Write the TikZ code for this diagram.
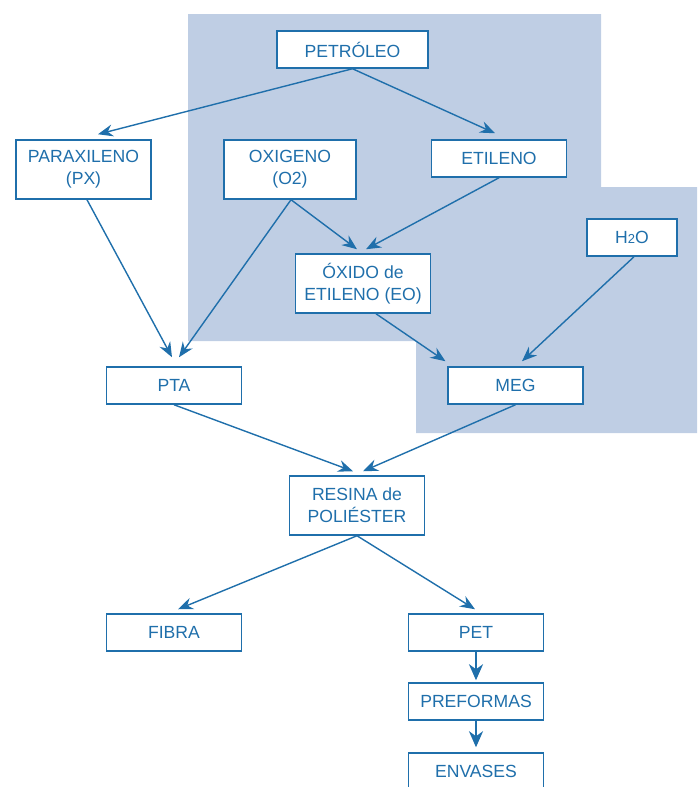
\documentclass[tikz,border=0pt]{standalone}
\usepackage{fontspec}
\setmainfont{Liberation Sans}
\usetikzlibrary{arrows.meta}

\definecolor{azul}{RGB}{31,111,171}
\definecolor{fondo}{RGB}{191,206,228}
\tikzstyle{box}=[draw=azul,fill=white,line width=0.75pt,text=azul,
                 minimum width=67.5pt,minimum height=18.5pt,inner sep=0pt,
                 align=center,font=\fontsize{8.8}{11}\selectfont]
\tikzstyle{flecha}=[draw=azul,line width=0.7pt,
                    -{Stealth[length=7.5pt,width=6pt,inset=2.5pt]}]
\tikzstyle{gruesa}=[draw=azul,line width=1.2pt,
                    -{Stealth[length=8pt,width=7pt,inset=2.5pt]}]

\begin{document}
\begin{tikzpicture}[x=0.5pt,y=-0.5pt]
  \useasboundingbox (0,0) rectangle (697,787);
  % zona sombreada
  \fill[fondo] (188,14) -- (601,14) -- (601,187) -- (697,187) -- (697,433)
    -- (416,433) -- (416,341) -- (188,341) -- cycle;

  \node[box,minimum width=75.5pt] (petroleo) at (352.5,49.5) {PETRÓLEO};
  \node[box,minimum height=29.5pt] (px) at (83.5,169.5) {PARAXILENO\\(PX)};
  \node[box,minimum width=66pt,minimum height=29.5pt] (oxigeno) at (290,169.5) {OXIGENO\\(O2)};
  \node[box] (etileno) at (499,158.5) {ETILENO};
  \node[box,minimum width=45pt] (h2o) at (632,237.5) {H{\fontsize{6.5}{8}\selectfont 2}O};
  \node[box,minimum height=29.5pt] (eo) at (363,283.5) {ÓXIDO de\\ETILENO (EO)};
  \node[box] (pta) at (174,385.5) {PTA};
  \node[box] (meg) at (515.5,385.5) {MEG};
  \node[box,minimum height=29.5pt] (resina) at (357,505.5) {RESINA de\\POLIÉSTER};
  \node[box] (fibra) at (174,632.5) {FIBRA};
  \node[box] (pet) at (476,632.5) {PET};
  \node[box] (preformas) at (476,701.5) {PREFORMAS};
  \node[box] (envases) at (476,771.5) {ENVASES};

  \path (petroleo.south) edge[flecha] ([xshift=7.25pt,yshift=2.5pt]px.north);
  \path (petroleo.south) edge[flecha] ([xshift=-2pt,yshift=3pt]etileno.north);
  \path ([xshift=1.75pt]px.south) edge[flecha] ([xshift=-1pt,yshift=4.5pt]pta.north);
  \path ([xshift=0.5pt]oxigeno.south) edge[flecha] ([xshift=2.5pt,yshift=4.5pt]pta.north);
  \path ([xshift=0.5pt]oxigeno.south) edge[flecha] ([xshift=-3pt,yshift=2pt]eo.north);
  \path (etileno.south) edge[flecha] ([xshift=1.5pt,yshift=2pt]eo.north);
  \path ([xshift=6.5pt]eo.south) edge[flecha] ([xshift=-35pt,yshift=2.5pt]meg.north);
  \path ([xshift=1pt]h2o.south) edge[flecha] ([xshift=3.25pt,yshift=2.5pt]meg.north);
  \path (pta.south) edge[flecha] ([xshift=-2pt,yshift=2pt]resina.north);
  \path (meg.south) edge[flecha] ([xshift=3pt,yshift=2pt]resina.north);
  \path (resina.south) edge[flecha] ([xshift=2pt,yshift=2pt]fibra.north);
  \path (resina.south) edge[flecha] ([xshift=-0.5pt,yshift=2pt]pet.north);
  \path (pet.south) edge[gruesa] ([yshift=1pt]preformas.north);
  \path (preformas.south) edge[gruesa] ([yshift=2.5pt]envases.north);

\end{tikzpicture}
\end{document}
